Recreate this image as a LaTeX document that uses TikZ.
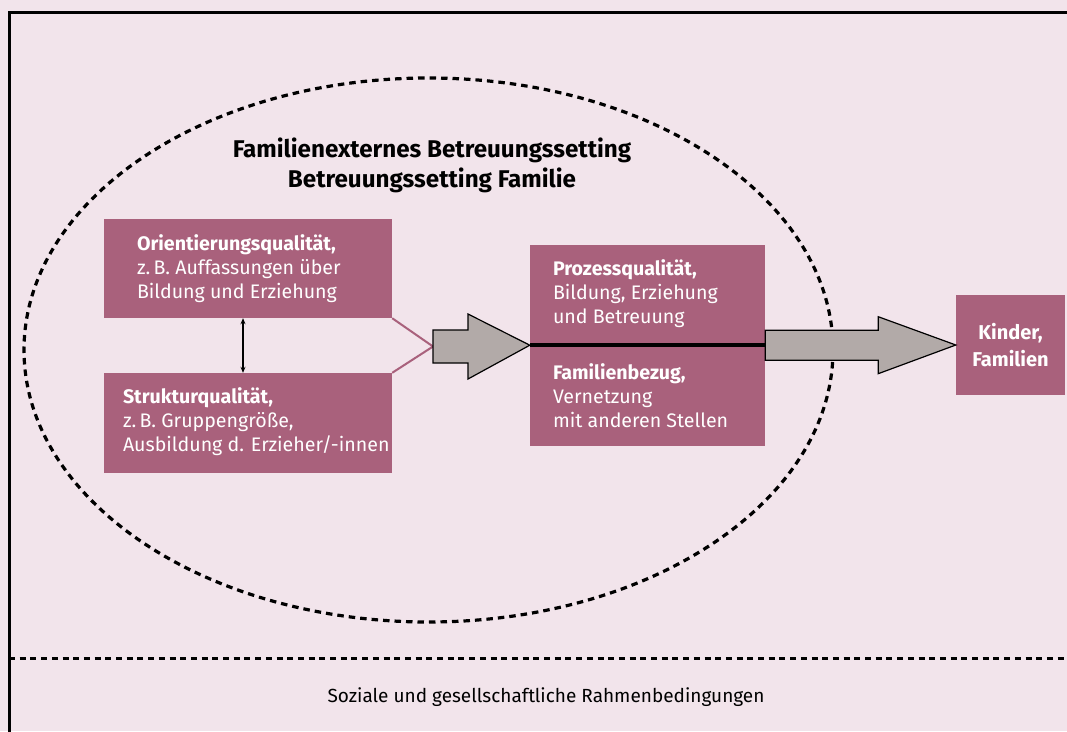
\documentclass[tikz,border=0pt]{standalone}
\usepackage{fontspec}
\setmainfont{Fira Sans}
\usetikzlibrary{arrows.meta,calc}
\definecolor{bgpink}{HTML}{F2E4EB}
\definecolor{mauve}{HTML}{A9617C}
\definecolor{arrowgray}{HTML}{B2AAA8}
\begin{document}
\begin{tikzpicture}[x=1pt,y=-1pt,
  qbox/.style={fill=mauve, inner sep=0pt},
  qtext/.style={text=white, anchor=west, align=left, inner sep=0pt,
    font=\fontsize{19.6}{24}\selectfont},
  bigarrow/.style={fill=arrowgray, draw=black, line width=1.2pt, line join=miter},
  dotline/.style={line width=3pt, dash pattern=on 6pt off 4.7pt},
  bodytext/.style={font=\fontsize{19}{24}\selectfont}]
\useasboundingbox (0,0) rectangle (1067,731);
\fill[bgpink] (0,0) rectangle (1067,731);
% outer frame, running past the right and bottom edges
\draw[line width=3pt] (9,12) rectangle (1085,745);
% separation of the framework conditions
\draw[dotline] (9,658) -- (1067,658);
% care setting
\draw[dotline, line width=3.2pt, dash pattern=on 6.5pt off 5pt] (428.5,350) ellipse [x radius=404.5pt, y radius=272pt];

\node[font=\fontsize{24.2}{30}\selectfont\bfseries, align=center] (title) at (432,165)
  {Familienexternes Betreuungssetting\\Betreuungssetting Familie};

% quality dimensions
\node[qbox, minimum width=288pt, minimum height=99pt] (orient) at (248,268.5) {};
\node[qbox, minimum width=288pt, minimum height=100pt] (struct) at (248,423) {};
\node[qbox, minimum width=235pt, minimum height=100pt] (proz) at (647.5,295) {};
\node[qbox, minimum width=235pt, minimum height=101pt] (fam) at (647.5,395.5) {};
\node[qbox, minimum width=109pt, minimum height=100pt] (kind) at (1010.5,345) {};

\node[qtext] (orient-t) at ($(orient.west)+(33,0)$)
  {\textbf{Orientierungsqualität,}\\z.\,B. Auffassungen über\\Bildung und Erziehung};
\node[qtext] (struct-t) at ($(struct.west)+(19,-1.5)$)
  {\textbf{Strukturqualität,}\\z.\,B. Gruppengröße,\\Ausbildung d. Erzieher/-innen};
\node[qtext] (proz-t) at ($(proz.west)+(23,-1)$)
  {\textbf{Prozessqualität,}\\Bildung, Erziehung\\und Betreuung};
\node[qtext] (fam-t) at ($(fam.west)+(23,0)$)
  {\textbf{Familienbezug,}\\Vernetzung\\mit anderen Stellen};
\node[qtext, anchor=center, align=center, font=\fontsize{20}{27}\selectfont\bfseries]
  (kind-t) at (kind) {Kinder,\\Familien};

\draw[line width=4pt] (proz.south west) -- (proz.south east);

% mutual relation of orientation and structure
\draw[{Stealth[length=6pt,width=5pt]}-{Stealth[length=6pt,width=5pt]}, line width=1.2pt]
  (orient.south -| 243,0) -- (struct.north -| 243,0);

% bracket joining both into one input
\coordinate (join) at (433,346.5);
\draw[mauve, line width=2pt] (orient.south east) -- (join) -- (struct.north east);

% broad arrows
\draw[bigarrow] ($(join)+(0,-16.5)$) -- ($(join)+(35,-16.5)$) -- ($(join)+(35,-32.5)$)
  -- (proz.south west) -- ($(join)+(35,32.5)$) -- ($(join)+(35,16.5)$) -- ($(join)+(0,16.5)$) -- cycle;
\draw[bigarrow] ($(proz.south east)+(0,-15)$) -- ($(proz.south east)+(113,-15)$)
  -- ($(proz.south east)+(113,-28.5)$) -- (kind.west) -- ($(proz.south east)+(113,28.5)$)
  -- ($(proz.south east)+(113,15)$) -- ($(proz.south east)+(0,15)$) -- cycle;

\node[bodytext] (frame) at (546,697) {Soziale und gesellschaftliche Rahmenbedingungen};
\end{tikzpicture}
\end{document}
